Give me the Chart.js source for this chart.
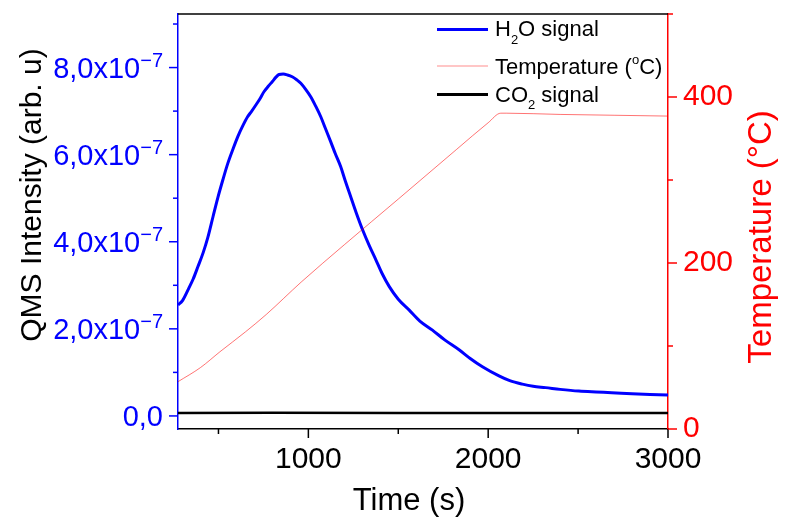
<!DOCTYPE html>
<html lang="en">
<head>
<meta charset="UTF-8">
<title>QMS signal and temperature</title>
<style>
  body { margin: 0; background: #fff; }
  canvas { display: block; }
</style>
</head>
<body>
<canvas id="chart" width="788" height="517"></canvas>
<script src="https://cdn.jsdelivr.net/npm/chart.js"></script>
<script>
// H2O signal, values in units of 1e-7 (arb. u)
const h2oTime = [275, 300, 330, 360, 386, 415, 441, 470, 497, 525, 552, 580, 607, 635, 662, 685, 708, 730, 754, 777, 800, 820, 837, 860, 884, 910, 935, 958, 985, 1013, 1040, 1069, 1095, 1124, 1150, 1180, 1205, 1235, 1265, 1302, 1340, 1376, 1410, 1450, 1500, 1561, 1620, 1690, 1760, 1838, 1900, 1968, 2060, 2120, 2190, 2250, 2319, 2400, 2504, 2600, 2687, 2800, 2900, 3000];
const h2oSignal = [2.55, 2.65, 2.89, 3.15, 3.43, 3.75, 4.10, 4.58, 5.02, 5.43, 5.80, 6.12, 6.41, 6.66, 6.87, 7.00, 7.14, 7.28, 7.45, 7.57, 7.68, 7.78, 7.84, 7.85, 7.83, 7.79, 7.72, 7.64, 7.50, 7.33, 7.12, 6.87, 6.60, 6.30, 6.02, 5.72, 5.40, 5.04, 4.68, 4.27, 3.90, 3.58, 3.27, 2.97, 2.68, 2.43, 2.18, 1.97, 1.74, 1.52, 1.32, 1.13, 0.92, 0.81, 0.73, 0.68, 0.65, 0.61, 0.57, 0.55, 0.535, 0.51, 0.495, 0.48];

// CO2 signal, same units
const co2Time = [275, 800, 1500, 2000, 2500, 3000];
const co2Signal = [0.07, 0.075, 0.07, 0.065, 0.065, 0.065];

// temperature (°C)
const tempTime = [275, 400, 508, 650, 766, 960, 1200, 1500, 1825, 2000, 2070, 2100, 2400, 2700, 3000];
const temperature = [57, 74, 93, 117, 138, 177, 222, 277, 337, 369, 380.5, 380.5, 379, 378, 377];

// axes
const xTicks = [500, 1000, 1500, 2000, 2500, 3000];
const xLabels = [1000, 2000, 3000];
const yTicks = [0, 1, 2, 3, 4, 5, 6, 7, 8, 9];
const yLabels = [0, 2, 4, 6, 8];
const y1Ticks = [0, 100, 200, 300, 400, 500];
const y1Labels = [0, 200, 400];

const FONT = "'Liberation Sans', Arial, sans-serif";
const BLUE = '#0000ff';
const RED = '#ff0000';

function toPoints(xs, ys) {
    return xs.map((x, i) => ({ x: x, y: ys[i] }));
}

function setTicks(list) {
    return scale => { scale.ticks = list.map(v => ({ value: v })); };
}

// fixed axis box, no extra room for overflowing labels
function fixSize(w, h) {
    return scale => {
        if (w) scale.width = w;
        if (h) scale.height = h;
        scale.paddingTop = 0;
        scale.paddingBottom = 0;
        scale.paddingLeft = 0;
        scale.paddingRight = 0;
    };
}

function strokeLine(ctx, x1, y1, x2, y2, color, width) {
    ctx.strokeStyle = color;
    ctx.lineWidth = width;
    ctx.beginPath();
    ctx.moveTo(x1, y1);
    ctx.lineTo(x2, y2);
    ctx.stroke();
}

// draws text pieces one after another; each piece is [text, size, dy]
function drawPieces(ctx, x, y, pieces) {
    pieces.forEach(p => {
        ctx.font = p[1] + 'px ' + FONT;
        ctx.fillText(p[0], x, y + p[2]);
        x += ctx.measureText(p[0]).width;
    });
}

const decorations = {
    id: 'decorations',
    afterDraw(chart) {
        const ctx = chart.ctx;
        const area = chart.chartArea;
        const sx = chart.scales.x, sy = chart.scales.y, sy1 = chart.scales.y1;
        ctx.save();

        // top frame
        strokeLine(ctx, area.left, area.top, area.right, area.top, '#000', 1.5);

        // tick marks
        xTicks.forEach(v => {
            const px = sx.getPixelForValue(v);
            const len = xLabels.includes(v) ? 9 : 5;
            strokeLine(ctx, px, area.bottom, px, area.bottom + len, '#000', 1.5);
        });
        yTicks.forEach(v => {
            const py = sy.getPixelForValue(v);
            const len = yLabels.includes(v) ? 9 : 5;
            strokeLine(ctx, area.left, py, area.left - len, py, BLUE, 1.5);
        });
        y1Ticks.forEach(v => {
            const py = sy1.getPixelForValue(v);
            const len = y1Labels.includes(v) ? 9 : 5;
            strokeLine(ctx, area.right, py, area.right + len, py, RED, 1.5);
        });

        // left tick labels with exponent
        ctx.fillStyle = BLUE;
        ctx.textBaseline = 'alphabetic';
        ctx.textAlign = 'right';
        yLabels.forEach(v => {
            const py = sy.getPixelForValue(v);
            const right = area.left - 15;
            let supW = 0;
            let base = '0,0';
            if (v !== 0) {
                base = v.toFixed(1).replace('.', ',') + 'x10';
                ctx.font = '20px ' + FONT;
                ctx.fillText('\u22127', right, py - 0.5);
                supW = ctx.measureText('\u22127').width;
            }
            ctx.font = '29px ' + FONT;
            ctx.fillText(base, right - supW, py + 10.5);
        });

        // axis titles
        ctx.textAlign = 'center';
        ctx.fillStyle = '#000';
        ctx.font = '31px ' + FONT;
        ctx.fillText('Time (s)', 409, 510);

        ctx.save();
        ctx.translate(41, 195);
        ctx.rotate(-Math.PI / 2);
        ctx.font = '30px ' + FONT;
        ctx.fillText('QMS Intensity (arb. u)', 0, 0);
        ctx.restore();

        ctx.save();
        ctx.translate(771, 237);
        ctx.rotate(-Math.PI / 2);
        ctx.fillStyle = RED;
        ctx.font = '33px ' + FONT;
        ctx.fillText('Temperature (\u00B0C)', 0, 0);
        ctx.restore();

        // legend
        ctx.textAlign = 'left';
        ctx.fillStyle = '#000';
        strokeLine(ctx, 437, 29.5, 488, 29.5, BLUE, 3);
        drawPieces(ctx, 495, 36, [['H', 22, 0], ['2', 13, 8], ['O signal', 22, 0]]);
        strokeLine(ctx, 437, 66, 488, 66, 'rgba(255,0,0,0.45)', 1);
        drawPieces(ctx, 495, 74, [['Temperature (', 22, 0], ['o', 13, -10], ['C)', 22, 0]]);
        strokeLine(ctx, 437, 94.5, 488, 94.5, '#000', 3);
        drawPieces(ctx, 495, 101.5, [['CO', 22, 0], ['2', 13, 7.5], [' signal', 22, 0]]);

        ctx.restore();
    }
};

new Chart(document.getElementById('chart'), {
    type: 'line',
    data: {
        datasets: [
            {
                label: 'Temperature (°C)',
                data: toPoints(tempTime, temperature),
                yAxisID: 'y1',
                borderColor: 'rgba(255,0,0,0.55)',
                borderWidth: 1,
                pointRadius: 0,
                cubicInterpolationMode: 'monotone'
            },
            {
                label: 'CO2 signal',
                data: toPoints(co2Time, co2Signal),
                yAxisID: 'y',
                borderColor: '#000',
                borderWidth: 2.5,
                pointRadius: 0
            },
            {
                label: 'H2O signal',
                data: toPoints(h2oTime, h2oSignal),
                yAxisID: 'y',
                borderColor: BLUE,
                borderWidth: 3,
                pointRadius: 0,
                cubicInterpolationMode: 'monotone'
            }
        ]
    },
    options: {
        responsive: false,
        animation: false,
        devicePixelRatio: 1,
        layout: { padding: { top: 14, left: 0, right: 0, bottom: 0 } },
        plugins: {
            legend: { display: false },
            tooltip: { enabled: false }
        },
        scales: {
            x: {
                type: 'linear',
                min: 275,
                max: 3000,
                afterBuildTicks: setTicks(xTicks),
                afterFit: fixSize(0, 88),
                grid: { display: false, drawTicks: false },
                border: { color: '#000', width: 1.5 },
                ticks: {
                    autoSkip: false,
                    maxRotation: 0,
                    padding: 13,
                    color: '#000',
                    font: { family: FONT, size: 30 },
                    callback: v => xLabels.includes(v) ? String(v) : ''
                }
            },
            y: {
                position: 'left',
                min: -0.3,
                max: 9.23,
                afterBuildTicks: setTicks(yTicks),
                afterFit: fixSize(178, 0),
                grid: { display: false, drawTicks: false },
                border: { color: BLUE, width: 1.5 },
                ticks: { display: false }
            },
            y1: {
                position: 'right',
                min: 0,
                max: 500,
                afterBuildTicks: setTicks(y1Ticks),
                afterFit: fixSize(120, 0),
                grid: { display: false, drawTicks: false },
                border: { color: RED, width: 1.5 },
                ticks: {
                    padding: 15,
                    color: RED,
                    font: { family: FONT, size: 30 },
                    callback: v => y1Labels.includes(v) ? String(v) : ''
                }
            }
        }
    },
    plugins: [decorations]
});
</script>
</body>
</html>
